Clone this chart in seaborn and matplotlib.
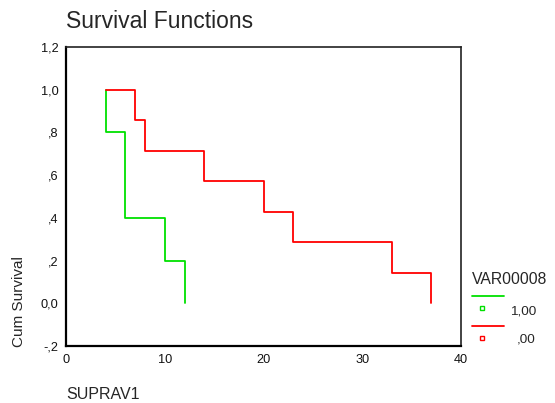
import matplotlib
matplotlib.use("Agg")
import matplotlib.pyplot as plt
from matplotlib.lines import Line2D
import seaborn as sns
import pandas as pd

# Kaplan-Meier step coordinates per group (time, cumulative survival)
group_labels = ["1,00", ",00"]
times_g1 = [4, 4, 6, 10, 12]
surv_g1 = [1.0, 0.8, 0.4, 0.2, 0.0]
times_g0 = [4, 7, 8, 14, 20, 23, 33, 37]
surv_g0 = [1.0, 0.857, 0.714, 0.571, 0.429, 0.286, 0.143, 0.0]

x_ticks = [0, 10, 20, 30, 40]
x_tick_labels = ["0", "10", "20", "30", "40"]
y_ticks = [-0.2, 0.0, 0.2, 0.4, 0.6, 0.8, 1.0, 1.2]
y_tick_labels = ["-,2", "0,0", ",2", ",4", ",6", ",8", "1,0", "1,2"]

colors = {"1,00": "#00e000", ",00": "#ff0000"}

df = pd.concat([
    pd.DataFrame({"time": times_g1, "surv": surv_g1, "group": group_labels[0]}),
    pd.DataFrame({"time": times_g0, "surv": surv_g0, "group": group_labels[1]}),
], ignore_index=True)

sns.set_style("white")
plt.rcParams["font.family"] = ["Liberation Sans", "DejaVu Sans"]

W, H = 555, 403
fig = plt.figure(figsize=(W / 100, H / 100), dpi=100)
ax = fig.add_axes([66 / W, 1 - 346 / H, (461 - 66) / W, (346 - 47) / H])

for g in group_labels:
    sub = df[df["group"] == g]
    sns.lineplot(data=sub, x="time", y="surv", ax=ax, color=colors[g],
                 estimator=None, sort=False, drawstyle="steps-post",
                 linewidth=1.3, legend=False)

ax.set_xlim(0, 40)
ax.set_ylim(-0.2, 1.2)
ax.set_xticks(x_ticks)
ax.set_xticklabels(x_tick_labels)
ax.set_yticks(y_ticks)
ax.set_yticklabels(y_tick_labels)
ax.tick_params(axis="both", direction="out", length=2.5, width=2.2,
               color="black", labelsize=9.2, pad=3, labelcolor="#111111")
ax.set_xlabel("")
ax.set_ylabel("")
for side in ["left", "bottom"]:
    ax.spines[side].set_color("black")
    ax.spines[side].set_linewidth(1.6)
for side in ["top", "right"]:
    ax.spines[side].set_color("#222222")
    ax.spines[side].set_linewidth(1.2)

def fx(px):
    return px / W

def fy(py):
    return 1 - py / H

fig.text(fx(66), fy(28), "Survival Functions", fontsize=16.5, ha="left", va="baseline")
fig.text(fx(19), fy(302), "Cum Survival", fontsize=11, rotation=90, ha="center", va="center")
fig.text(fx(66), fy(399), "SUPRAV1", fontsize=11.5, ha="left", va="baseline")

# legend drawn beside the axes
fig.text(fx(472), fy(284), "VAR00008", fontsize=11.3, ha="left", va="baseline")
legend_rows = [(group_labels[0], 296, 308, 311), (group_labels[1], 326, 338, 340)]
for g, ly, my, ty in legend_rows:
    fig.add_artist(Line2D([fx(472), fx(504)], [fy(ly), fy(ly)], color=colors[g],
                          linewidth=1.3, transform=fig.transFigure))
    fig.add_artist(Line2D([fx(482)], [fy(my)], marker="s", markersize=3.5,
                          markerfacecolor="white", markeredgecolor=colors[g],
                          markeredgewidth=1.0, linestyle="none",
                          transform=fig.transFigure))
    fig.text(fx(536), fy(ty), g, fontsize=9.7, ha="right", va="center")

fig.savefig("out.png", dpi=100)
